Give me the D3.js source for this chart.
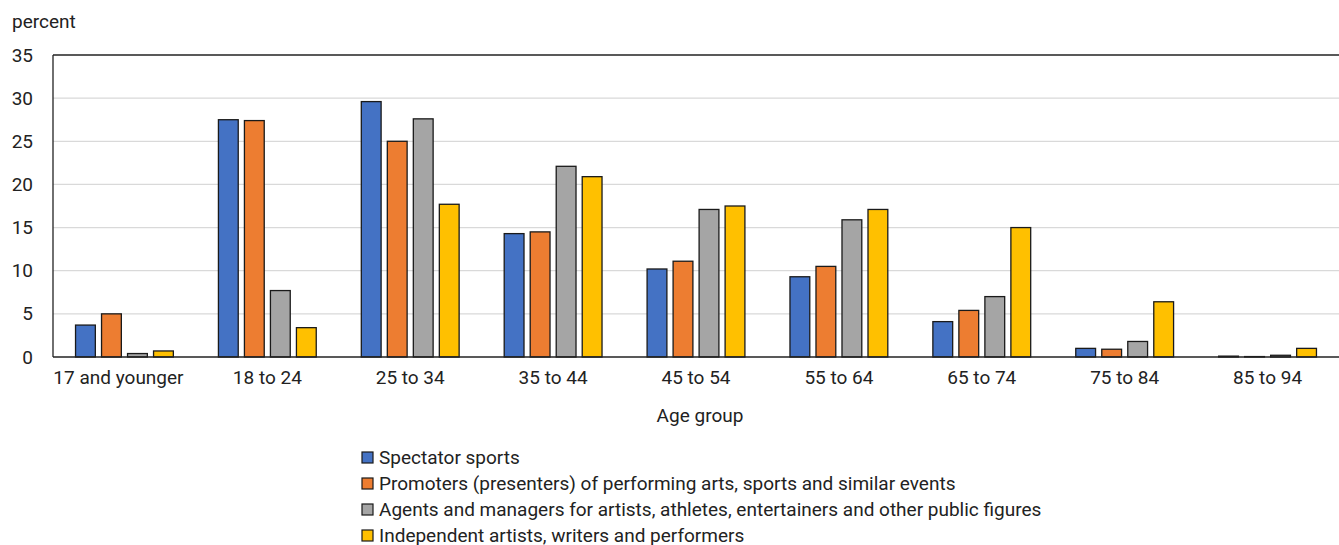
<!DOCTYPE html>
<html><head><meta charset="utf-8">
<script src="https://cdn.jsdelivr.net/npm/d3@7"></script>
<style>
body{margin:0;background:#fff;}
text{font-family:Roboto,"Liberation Sans",sans-serif;fill:#222;font-size:19px;}
</style></head>
<body><svg id="c" width="1339" height="545"></svg>
<script>
const categories = ["17 and younger","18 to 24","25 to 34","35 to 44","45 to 54","55 to 64","65 to 74","75 to 84","85 to 94"];
const seriesNames = ["Spectator sports","Promoters (presenters) of performing arts, sports and similar events","Agents and managers for artists, athletes, entertainers and other public figures","Independent artists, writers and performers"];
const spectator = [3.7,27.5,29.6,14.3,10.2,9.3,4.1,1.0,0.1];
const promoters = [5.0,27.4,25.0,14.5,11.1,10.5,5.4,0.9,0.05];
const agents = [0.4,7.7,27.6,22.1,17.1,15.9,7.0,1.8,0.2];
const independent = [0.7,3.4,17.7,20.9,17.5,17.1,15.0,6.4,1.0];
const yTicks = [0,5,10,15,20,25,30,35];
const colors = ["#4472c4","#ed7d31","#a5a5a5","#ffc000"];
const series = [spectator,promoters,agents,independent];

const svg = d3.select("#c");
const L=53,R=1339,T=55,B=357;
const y = d3.scaleLinear().domain([0,35]).range([B,T]);
const x0 = d3.scaleBand().domain(categories).range([L,R]).paddingInner(0.272).paddingOuter(0.136);
const x1 = d3.scaleBand().domain(d3.range(4)).range([0,x0.bandwidth()]).paddingInner(0.2).paddingOuter(0.1);

svg.append("g").selectAll("line").data(yTicks.filter(d=>d>0&&d<35)).join("line")
 .attr("x1",L).attr("x2",R).attr("y1",d=>y(d)).attr("y2",d=>y(d))
 .attr("stroke","#d9d9d9").attr("stroke-width",1.2);

const g = svg.append("g");
series.forEach((vals,si)=>{
  g.selectAll(null).data(vals).join("rect")
   .attr("x",(d,i)=>x0(categories[i])+x1(si)+0.5)
   .attr("width",x1.bandwidth()-1)
   .attr("y",d=>y(d))
   .attr("height",d=>B-y(d))
   .attr("fill",colors[si]).attr("stroke","#1a1a1a").attr("stroke-width",1.3);
});

svg.append("line").attr("x1",L).attr("x2",R).attr("y1",T).attr("y2",T).attr("stroke","#222").attr("stroke-width",1.3);
svg.append("line").attr("x1",L).attr("x2",L).attr("y1",T).attr("y2",B).attr("stroke","#222").attr("stroke-width",1.3);
svg.append("line").attr("x1",L).attr("x2",R).attr("y1",B).attr("y2",B).attr("stroke","#222").attr("stroke-width",1.5);

const yAxis = d3.axisLeft(y).tickValues(yTicks).tickSize(0).tickPadding(20);
const ya = svg.append("g").attr("transform",`translate(${L},0)`).call(yAxis);
ya.select(".domain").remove();
ya.attr("font-family",null).attr("font-size",null);
ya.selectAll("text").attr("fill","#222");

const xAxis = d3.axisBottom(x0).tickSize(0).tickPadding(14);
const xa = svg.append("g").attr("transform",`translate(0,${B})`).call(xAxis);
xa.select(".domain").remove();
xa.attr("font-family",null).attr("font-size",null);
xa.selectAll("text").attr("fill","#222");
xa.selectAll("text").filter((d,i)=>i===0).attr("dx",-6);

svg.append("text").attr("x",12).attr("y",28).text("percent");
svg.append("text").attr("x",700).attr("y",422).attr("text-anchor","middle").text("Age group");

const lg = svg.append("g");
seriesNames.forEach((n,i)=>{
  const yy = 457 + i*26;
  lg.append("rect").attr("x",362).attr("y",yy-5).attr("width",11).attr("height",11)
    .attr("fill",colors[i]).attr("stroke","#1a1a1a").attr("stroke-width",1.2);
  lg.append("text").attr("x",379).attr("y",yy+6.5).text(n);
});
</script></body></html>
